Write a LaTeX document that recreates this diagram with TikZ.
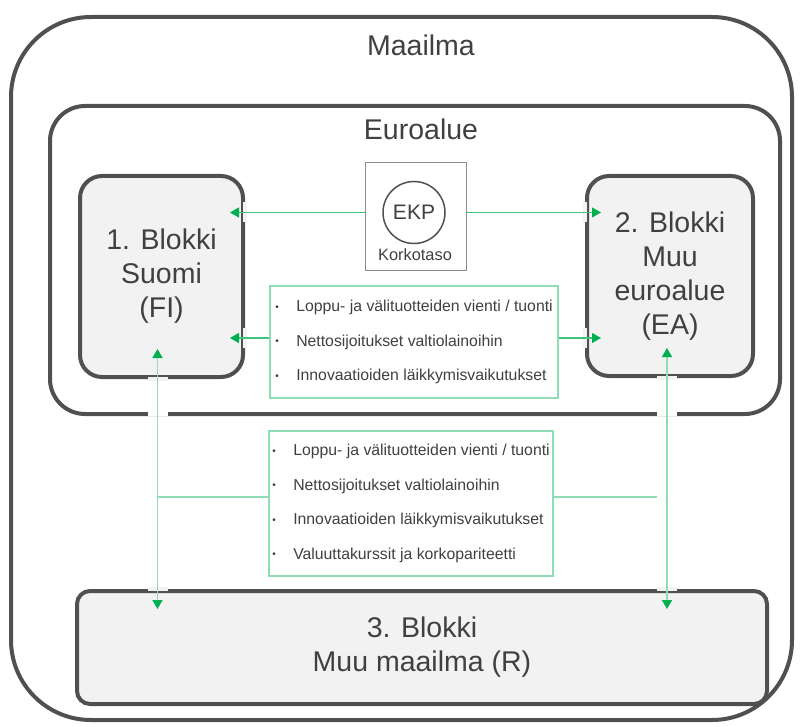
\documentclass[tikz,border=0pt]{standalone}
\usepackage{fontspec}
\setmainfont{Liberation Sans}
\usetikzlibrary{arrows.meta}

\definecolor{frameg}{HTML}{505050}
\definecolor{boxfill}{HTML}{F2F2F2}
\definecolor{txtg}{HTML}{404040}
\definecolor{ecbgreen}{HTML}{00B050}
\definecolor{linkg}{HTML}{3CC47E}
\definecolor{paleg}{HTML}{8FDDB4}

\newcommand{\kohta}[1]{\makebox[21pt][l]{\raisebox{1.5pt}{\fontsize{10}{10}\selectfont\textbullet}}#1}

\tikzset{
  ecbtip/.tip={Triangle[length=9pt,width=10pt,color=ecbgreen]},
  frame/.style={draw=frameg, line width=4pt},
  blokki/.style={frame, fill=boxfill, rounded corners=22pt, text=txtg, align=center,
    inner sep=0pt, font=\fontsize{28.5}{34}\selectfont},
  listbox/.style={draw=paleg, line width=1.5pt, fill=white, text=txtg, align=left,
    inner sep=0pt, font=\fontsize{15.8}{34.5}\selectfont},
  title/.style={text=txtg, font=\fontsize{28.5}{34}\selectfont},
  flow/.style={draw=linkg, line width=1.2pt, -ecbtip},
  link/.style={draw=paleg, line width=1.5pt},
  notch/.style={fill=boxfill}
}

\begin{document}
\begin{tikzpicture}[x=1pt, y=-1pt]
    \useasboundingbox (0,0) rectangle (803,727);

    % Maailma and Euroalue frames
    \draw[frame, rounded corners=80pt] (11,17) rectangle (792,720);
    \node[title] (maailma) at (421,45.5) {Maailma};
    \draw[frame, rounded corners=35pt] (50,106) rectangle (780,414);
    \coordinate (eubot) at (0,414);
    \node[title] (euroalue) at (421,129.5) {Euroalue};

    % the three blocks
    \node[blokki, minimum width=163pt, minimum height=201pt] (b1) at (161.5,276.5)
        {1. Blokki\\Suomi\\(FI)};
    \node[blokki, minimum width=166pt, minimum height=200pt] (b2) at (670,276)
        {2. Blokki\\Muu\\euroalue\\(EA)};
    \node[blokki, rounded corners=13pt, minimum width=690pt, minimum height=113pt] (b3) at (422,647.5)
        {3. Blokki\\Muu maailma (R)};

    % EKP
    \node[draw=black!45, line width=1pt, minimum width=101pt, minimum height=108pt] (ekp) at (415.5,217) {};
    \node[circle, draw=frameg, line width=1.5pt, minimum size=62pt, inner sep=0pt, text=txtg,
        font=\fontsize{21}{21}\selectfont] (ekpc) at (414,212.5) {EKP};
    \node[text=txtg, font=\fontsize{16.4}{18}\selectfont] (korko) at (415,255) {Korkotaso};

    % channels
    \node[listbox, minimum width=288pt, minimum height=112pt] (l1) at (414,342) {%
        \kohta{Loppu- ja välituotteiden vienti / tuonti}\\
        \kohta{Nettosijoitukset valtiolainoihin}\\
        \kohta{Innovaatioiden läikkymisvaikutukset}};
    \node[listbox, minimum width=284pt, minimum height=145pt] (l2) at (411,503.5) {%
        \kohta{Loppu- ja välituotteiden vienti / tuonti}\\
        \kohta{Nettosijoitukset valtiolainoihin}\\
        \kohta{Innovaatioiden läikkymisvaikutukset}\\
        \kohta{Valuuttakurssit ja korkopariteetti}};

    \coordinate (l1w) at ([yshift=4pt]l1.west);
    \coordinate (l1e) at ([yshift=4pt]l1.east);
    \coordinate (l2w) at ([yshift=6.5pt]l2.west);
    \coordinate (fitop) at ([xshift=-4pt,yshift=30pt]b1.south);
    \coordinate (eatop) at ([xshift=-3pt,yshift=30pt]b2.south);
    \coordinate (b3in) at ([yshift=-20pt]b3.north);

    % gaps where the links cross the frames
    \foreach \p in {(b1.east |- ekpc), (b1.east |- l1w), (b2.west |- ekpc), (b2.west |- l1w)}
        \fill[notch] \p ++(-2.3,-10) rectangle ++(4.6,20);
    \foreach \p in {(fitop |- b1.south), (eatop |- b2.south), (fitop |- b3.north), (eatop |- b3.north)}
        \fill[notch] \p ++(-10,-2.3) rectangle ++(20,4.6);
    \foreach \p in {(fitop |- eubot), (eatop |- eubot)}
        \fill[white] \p ++(-10,-2.3) rectangle ++(20,4.6);

    % links
    \draw[flow] (ekp.west |- ekpc) -- ([xshift=-15pt]b1.east |- ekpc);
    \draw[flow] (ekp.east |- ekpc) -- ([xshift=16pt]b2.west |- ekpc);
    \draw[flow] (l1w) -- ([xshift=-15pt]b1.east |- l1w);
    \draw[flow] (l1e) -- ([xshift=16pt]b2.west |- l1e);

    \draw[link, ecbtip-ecbtip] (fitop) -- (fitop |- b3in);
    \draw[link, ecbtip-ecbtip] (eatop) -- (eatop |- b3in);
    \draw[link] (fitop |- l2w) -- (l2w);
    \draw[link] (l2w -| l2.east) -- ([xshift=-10pt]eatop |- l2w);
\end{tikzpicture}
\end{document}
